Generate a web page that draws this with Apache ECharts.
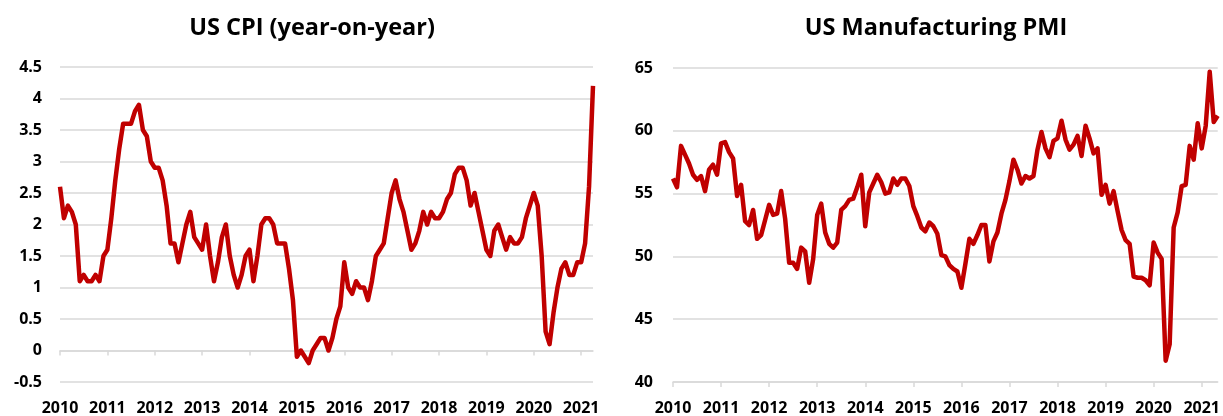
<!DOCTYPE html>
<html>
<head>
<meta charset="utf-8">
<script src="https://cdn.jsdelivr.net/npm/echarts@6/dist/echarts.min.js"></script>
<style>
  html, body { margin: 0; padding: 0; background: #fff; }
  #chart { width: 1223px; height: 416px; }
</style>
</head>
<body>
<div id="chart"></div>
<script>
  // monthly categories, Jan 2010 onwards
  function months(n) {
    const out = [];
    for (let i = 0; i < n; i++) {
      const y = 2010 + Math.floor(i / 12);
      const m = (i % 12) + 1;
      out.push(y + '-' + (m < 10 ? '0' + m : m));
    }
    return out;
  }

  // US CPI yoy, Jan 2010 - Apr 2021
  const cpiValues = [
    2.6, 2.1, 2.3, 2.2, 2.0, 1.1, 1.2, 1.1, 1.1, 1.2, 1.1, 1.5,
    1.6, 2.1, 2.7, 3.2, 3.6, 3.6, 3.6, 3.8, 3.9, 3.5, 3.4, 3.0,
    2.9, 2.9, 2.7, 2.3, 1.7, 1.7, 1.4, 1.7, 2.0, 2.2, 1.8, 1.7,
    1.6, 2.0, 1.5, 1.1, 1.4, 1.8, 2.0, 1.5, 1.2, 1.0, 1.2, 1.5,
    1.6, 1.1, 1.5, 2.0, 2.1, 2.1, 2.0, 1.7, 1.7, 1.7, 1.3, 0.8,
    -0.1, 0.0, -0.1, -0.2, 0.0, 0.1, 0.2, 0.2, 0.0, 0.2, 0.5, 0.7,
    1.4, 1.0, 0.9, 1.1, 1.0, 1.0, 0.8, 1.1, 1.5, 1.6, 1.7, 2.1,
    2.5, 2.7, 2.4, 2.2, 1.9, 1.6, 1.7, 1.9, 2.2, 2.0, 2.2, 2.1,
    2.1, 2.2, 2.4, 2.5, 2.8, 2.9, 2.9, 2.7, 2.3, 2.5, 2.2, 1.9,
    1.6, 1.5, 1.9, 2.0, 1.8, 1.6, 1.8, 1.7, 1.7, 1.8, 2.1, 2.3,
    2.5, 2.3, 1.5, 0.3, 0.1, 0.6, 1.0, 1.3, 1.4, 1.2, 1.2, 1.4,
    1.4, 1.7, 2.6, 4.2
  ];

  // US manufacturing PMI, Jan 2010 - May 2021
  const pmiValues = [
    56.2, 55.5, 58.8, 58.1, 57.4, 56.5, 56.1, 56.4, 55.2, 56.9, 57.3, 56.5,
    59.0, 59.1, 58.3, 57.8, 54.8, 55.7, 52.8, 52.5, 53.7, 51.4, 51.7, 52.9,
    54.1, 53.3, 53.4, 55.2, 53.0, 49.5, 49.5, 49.0, 50.7, 50.4, 47.9, 49.8,
    53.3, 54.2, 51.9, 51.0, 50.7, 51.1, 53.7, 54.0, 54.5, 54.6, 55.5, 56.5,
    52.4, 55.1, 55.8, 56.5, 55.9, 55.0, 55.1, 56.2, 55.7, 56.2, 56.2, 55.6,
    54.0, 53.2, 52.3, 52.0, 52.7, 52.4, 51.8, 50.1, 50.0, 49.3, 49.0, 48.8,
    47.5, 49.4, 51.4, 51.0, 51.7, 52.5, 52.5, 49.6, 51.2, 51.9, 53.4, 54.5,
    56.0, 57.7, 56.9, 55.8, 56.4, 56.2, 56.4, 58.5, 59.9, 58.6, 57.9, 59.2,
    59.4, 60.8, 59.3, 58.5, 58.9, 59.6, 58.0, 60.4, 59.4, 58.2, 58.6, 54.9,
    55.7, 54.2, 55.2, 53.6, 52.1, 51.3, 51.0, 48.4, 48.3, 48.3, 48.1, 47.7,
    51.1, 50.3, 49.8, 41.7, 43.0, 52.3, 53.5, 55.6, 55.7, 58.8, 57.7, 60.6,
    58.6, 60.4, 64.7, 60.7, 61.2
  ];

  const cpiMonths = months(cpiValues.length);
  const pmiMonths = months(pmiValues.length);

  const font = '"Open Sans", "DejaVu Sans", sans-serif';
  const gridColor = '#d9d9d9';
  const lineColor = '#c00000';

  const yearOnly = (i) => i % 12 === 0;
  const yearLabel = (v) => v.slice(0, 4);

  const labelStyle = {
    color: '#000',
    fontFamily: font,
    fontWeight: 'bold',
    fontSize: 16,
  };
  const titleStyle = { fontFamily: font, fontWeight: 'bold', fontSize: 23.5, color: '#000' };

  const chart = echarts.init(document.getElementById('chart'));
  chart.setOption({
    animation: false,
    title: [
      { text: 'US CPI (year-on-year)', left: 307, top: 11, textAlign: 'center', textStyle: titleStyle },
      { text: 'US Manufacturing PMI', left: 931, top: 11, textAlign: 'center', textStyle: titleStyle },
    ],
    grid: [
      { left: 60, top: 67, width: 533, height: 316 },
      { left: 673, top: 68, width: 546, height: 315 },
    ],
    xAxis: [
      // CPI: axis line + ticks sitting on zero
      {
        type: 'category', gridIndex: 0, data: cpiMonths, boundaryGap: false,
        axisLine: { onZero: true, lineStyle: { color: gridColor, width: 1.5 } },
        axisTick: { interval: yearOnly, length: 5, lineStyle: { color: gridColor, width: 1.5 } },
        axisLabel: { show: false },
        splitLine: { show: false },
      },
      // CPI: year labels at the bottom
      {
        type: 'category', gridIndex: 0, data: cpiMonths, boundaryGap: false,
        position: 'bottom',
        axisLine: { show: false, onZero: false },
        axisTick: { show: false },
        axisLabel: Object.assign({ interval: yearOnly, formatter: yearLabel, margin: 18 }, labelStyle),
      },
      // PMI
      {
        type: 'category', gridIndex: 1, data: pmiMonths, boundaryGap: false,
        axisLine: { lineStyle: { color: gridColor, width: 1.5 } },
        axisTick: { interval: yearOnly, length: 5, lineStyle: { color: gridColor, width: 1.5 } },
        axisLabel: Object.assign({ interval: yearOnly, formatter: yearLabel, margin: 18 }, labelStyle),
      },
    ],
    yAxis: [
      {
        type: 'value', gridIndex: 0, min: -0.5, max: 4.5, interval: 0.5,
        axisLine: { show: false }, axisTick: { show: false },
        axisLabel: Object.assign({ margin: 18 }, labelStyle),
        splitLine: { lineStyle: { color: gridColor, width: 1.5 } },
      },
      {
        type: 'value', gridIndex: 1, min: 40, max: 65, interval: 5,
        axisLine: { show: false }, axisTick: { show: false },
        axisLabel: Object.assign({ margin: 20 }, labelStyle),
        splitLine: { lineStyle: { color: gridColor, width: 1.5 } },
      },
    ],
    series: [
      {
        name: 'US CPI', type: 'line', xAxisIndex: 0, yAxisIndex: 0,
        data: cpiValues, showSymbol: false,
        lineStyle: { color: lineColor, width: 4.5, join: 'round' },
      },
      {
        name: 'US Manufacturing PMI', type: 'line', xAxisIndex: 2, yAxisIndex: 1,
        data: pmiValues, showSymbol: false,
        lineStyle: { color: lineColor, width: 4.5, join: 'round' },
      },
    ],
  });
</script>
</body>
</html>
